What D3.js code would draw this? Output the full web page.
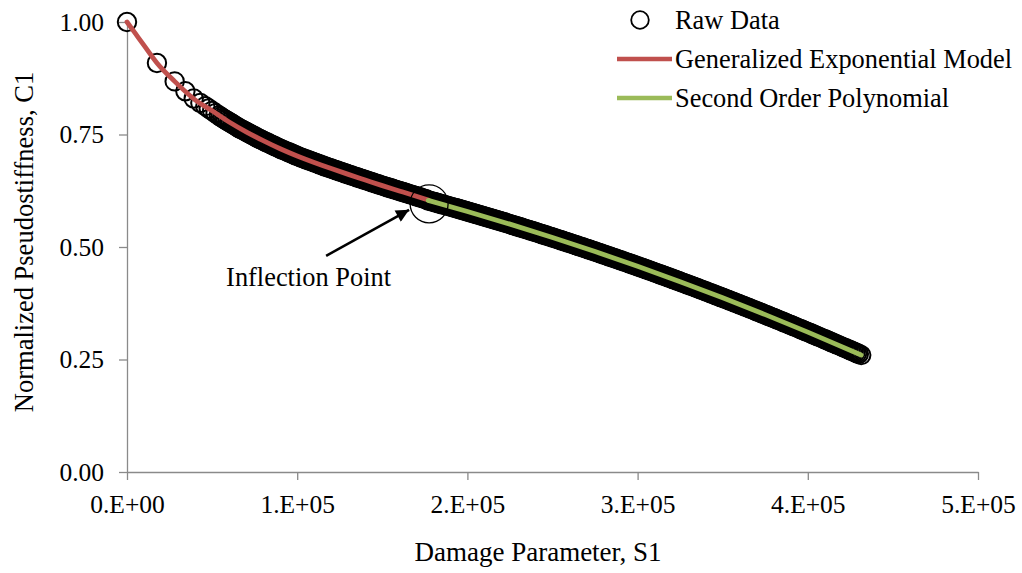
<!DOCTYPE html>
<html>
<head>
<meta charset="utf-8">
<script src="https://cdn.jsdelivr.net/npm/d3@7"></script>
<style>
  body { margin: 0; background: #fff; }
  svg { display: block; font-family: "Liberation Serif", "Times New Roman", serif; }
</style>
</head>
<body>
<div id="chart"></div>
<script>
// raw data: damage parameter S1 (in thousands) and normalized pseudostiffness C1
const rawSk = [0, 17.6, 28.0, 34.3, 39.2, 43.1,
  46, 48, 50, 52, 54, 56, 58, 60, 62, 64, 66, 68, 70, 72, 74, 76, 78, 80, 82, 84, 86, 88, 90,
  92, 94, 96, 98, 100, 102, 104, 106, 108, 110, 112, 114, 116, 118, 120, 122, 124, 126, 128, 130,
  132, 134, 136, 138, 140, 142, 144, 146, 148, 150, 152, 154, 156, 158, 160, 162, 164, 166, 168, 170,
  172, 174, 176, 178, 180, 182, 184, 186, 188, 190, 192, 194, 196, 198, 200, 202, 204, 206, 208, 210,
  212, 214, 216, 218, 220, 222, 224, 226, 228, 230, 232, 234, 236, 238, 240, 242, 244, 246, 248, 250,
  252, 254, 256, 258, 260, 262, 264, 266, 268, 270, 272, 274, 276, 278, 280, 282, 284, 286, 288, 290,
  292, 294, 296, 298, 300, 302, 304, 306, 308, 310, 312, 314, 316, 318, 320, 322, 324, 326, 328, 330,
  332, 334, 336, 338, 340, 342, 344, 346, 348, 350, 352, 354, 356, 358, 360, 362, 364, 366, 368, 370,
  372, 374, 376, 378, 380, 382, 384, 386, 388, 390, 392, 394, 396, 398, 400, 402, 404, 406, 408, 410,
  412, 414, 416, 418, 420, 422, 424, 426, 428, 430, 431.4];
const rawC = [1.000, 0.909, 0.868, 0.846, 0.830, 0.820,
  0.8130, 0.8078, 0.8026, 0.7974, 0.7922, 0.7870, 0.7824, 0.7778, 0.7732, 0.7686, 0.7640, 0.7600,
  0.7560, 0.7520, 0.7480, 0.7440, 0.7400, 0.7364, 0.7328, 0.7292, 0.7256, 0.7220, 0.7184, 0.7152,
  0.7120, 0.7088, 0.7056, 0.7024, 0.6992, 0.6964, 0.6936, 0.6908, 0.6880, 0.6852, 0.6824, 0.6796,
  0.6770, 0.6744, 0.6718, 0.6692, 0.6666, 0.6640, 0.6614, 0.6589, 0.6564, 0.6539, 0.6514, 0.6489,
  0.6464, 0.6439, 0.6414, 0.6389, 0.6364, 0.6340, 0.6317, 0.6293, 0.6270, 0.6246, 0.6222, 0.6199,
  0.6175, 0.6152, 0.6128, 0.6104, 0.6081, 0.6057,
  0.6025, 0.6004, 0.5983, 0.5962, 0.5941, 0.5919, 0.5898, 0.5876, 0.5855, 0.5833, 0.5811, 0.5790,
  0.5768, 0.5746, 0.5724, 0.5701, 0.5679, 0.5656, 0.5634, 0.5611, 0.5589, 0.5566, 0.5543, 0.5520,
  0.5497, 0.5473, 0.5450, 0.5427, 0.5403, 0.5380, 0.5356, 0.5332, 0.5308, 0.5284, 0.5260, 0.5236,
  0.5211, 0.5187, 0.5163, 0.5138, 0.5113, 0.5088, 0.5064, 0.5039, 0.5013, 0.4988, 0.4963, 0.4938,
  0.4912, 0.4887, 0.4861, 0.4835, 0.4809, 0.4783, 0.4757, 0.4731, 0.4705, 0.4678, 0.4652, 0.4625,
  0.4599, 0.4572, 0.4545, 0.4518, 0.4491, 0.4464, 0.4437, 0.4409, 0.4382, 0.4354, 0.4327, 0.4299,
  0.4271, 0.4243, 0.4215, 0.4187, 0.4159, 0.4130, 0.4102, 0.4073, 0.4045, 0.4016, 0.3987, 0.3958,
  0.3929, 0.3900, 0.3871, 0.3842, 0.3812, 0.3783, 0.3753, 0.3723, 0.3693, 0.3664, 0.3634, 0.3603,
  0.3573, 0.3543, 0.3513, 0.3482, 0.3451, 0.3421, 0.3390, 0.3359, 0.3328, 0.3297, 0.3266, 0.3235,
  0.3203, 0.3172, 0.3140, 0.3108, 0.3077, 0.3045, 0.3013, 0.2981, 0.2949, 0.2916, 0.2884, 0.2852,
  0.2819, 0.2786, 0.2754, 0.2721, 0.2688, 0.2655, 0.2622, 0.2598];

// the rest of the dense raw readings (in between the ones above)
const rawSk2 = [55, 57, 59, 61, 63, 65, 67, 69, 71, 73, 75, 77, 79, 81, 83, 85, 87, 89, 91, 93, 95,
  97, 99, 101, 103, 105, 107, 109, 111, 113, 115, 117, 119, 121, 123, 125, 127, 129, 131, 133, 135,
  137, 139, 141, 143, 145, 147, 149, 151, 153, 155, 157, 159, 161, 163, 165, 167, 169, 171, 173, 175,
  177, 179, 181, 183, 185, 187, 189, 191, 193, 195, 197, 199, 201, 203, 205, 207, 209, 211, 213, 215,
  217, 219, 221, 223, 225, 227, 229, 231, 233, 235, 237, 239, 241, 243, 245, 247, 249, 251, 253, 255,
  257, 259, 261, 263, 265, 267, 269, 271, 273, 275, 277, 279, 281, 283, 285, 287, 289, 291, 293, 295,
  297, 299, 301, 303, 305, 307, 309, 311, 313, 315, 317, 319, 321, 323, 325, 327, 329, 331, 333, 335,
  337, 339, 341, 343, 345, 347, 349, 351, 353, 355, 357, 359, 361, 363, 365, 367, 369, 371, 373, 375,
  377, 379, 381, 383, 385, 387, 389, 391, 393, 395, 397, 399, 401, 403, 405, 407, 409, 411, 413, 415,
  417, 419, 421, 423, 425, 427, 429];
const rawC2 = [0.7896, 0.7847, 0.7801, 0.7755, 0.7709, 0.7663, 0.7620, 0.7580, 0.7540, 0.7500, 0.7460,
  0.7420, 0.7382, 0.7346, 0.7310, 0.7274, 0.7238, 0.7202, 0.7168, 0.7136, 0.7104, 0.7072, 0.7040,
  0.7008, 0.6978, 0.6950, 0.6922, 0.6894, 0.6866, 0.6838, 0.6810, 0.6783, 0.6757, 0.6731, 0.6705,
  0.6679, 0.6653, 0.6627, 0.6601, 0.6576, 0.6551, 0.6526, 0.6501, 0.6476, 0.6451, 0.6426, 0.6401,
  0.6376, 0.6352, 0.6328, 0.6305, 0.6281, 0.6258, 0.6234, 0.6210, 0.6187, 0.6163, 0.6140, 0.6116,
  0.6092, 0.6069,
  0.6035, 0.6014, 0.5993, 0.5972, 0.5951, 0.5930, 0.5909, 0.5887, 0.5866, 0.5844, 0.5822, 0.5801,
  0.5779, 0.5757, 0.5735, 0.5712, 0.5690, 0.5668, 0.5645, 0.5623, 0.5600, 0.5577, 0.5554, 0.5531,
  0.5508, 0.5485, 0.5462, 0.5438, 0.5415, 0.5391, 0.5368, 0.5344, 0.5320, 0.5296, 0.5272, 0.5248,
  0.5224, 0.5199, 0.5175, 0.5150, 0.5126, 0.5101, 0.5076, 0.5051, 0.5026, 0.5001, 0.4976, 0.4950,
  0.4925, 0.4899, 0.4874, 0.4848, 0.4822, 0.4796, 0.4770, 0.4744, 0.4718, 0.4692, 0.4665, 0.4639,
  0.4612, 0.4585, 0.4558, 0.4532, 0.4505, 0.4477, 0.4450, 0.4423, 0.4396, 0.4368, 0.4340, 0.4313,
  0.4285, 0.4257, 0.4229, 0.4201, 0.4173, 0.4144, 0.4116, 0.4088, 0.4059, 0.4030, 0.4002, 0.3973,
  0.3944, 0.3915, 0.3885, 0.3856, 0.3827, 0.3797, 0.3768, 0.3738, 0.3708, 0.3679, 0.3649, 0.3619,
  0.3588, 0.3558, 0.3528, 0.3497, 0.3467, 0.3436, 0.3405, 0.3375, 0.3344, 0.3313, 0.3281, 0.3250,
  0.3219, 0.3187, 0.3156, 0.3124, 0.3093, 0.3061, 0.3029, 0.2997, 0.2965, 0.2933, 0.2900, 0.2868,
  0.2835, 0.2803, 0.2770, 0.2737, 0.2704, 0.2671, 0.2638];

// fitted models
const expSk = [0, 5, 10, 17.6, 28, 40, 50, 60, 70, 80, 90, 100, 110, 120, 130, 140, 150, 160, 170, 177];
const expC = [1.000, 0.974, 0.948, 0.909, 0.868, 0.827, 0.8026, 0.7778, 0.7560, 0.7364, 0.7184,
  0.7024, 0.6880, 0.6744, 0.6614, 0.6489, 0.6364, 0.6246, 0.6128, 0.6045];
const polySk = [177, 200, 225, 250, 275, 300, 325, 350, 375, 400, 431.4];
const polyC = [0.6035, 0.5790, 0.5508, 0.5211, 0.4899, 0.4572, 0.4229, 0.3871, 0.3497, 0.3108, 0.2598];

const inflection = { s: 177.5, c: 0.596 };

const xTicks = [0, 1e5, 2e5, 3e5, 4e5, 5e5];
const yTicks = [0, 0.25, 0.5, 0.75, 1.0];
const legendLabels = ["Raw Data", "Generalized Exponential Model", "Second Order Polynomial"];

const width = 1022, height = 573;
const margin = { top: 22, right: 44, bottom: 101, left: 127 };

const x = d3.scaleLinear().domain([0, 5e5]).range([margin.left, width - margin.right]);
const y = d3.scaleLinear().domain([0, 1]).range([height - margin.bottom, margin.top]);

const svg = d3.select("#chart").append("svg")
    .attr("width", width)
    .attr("height", height)
    .attr("viewBox", [0, 0, width, height]);

// 0.E+00 style tick labels
function fmtE(d) {
    if (d === 0) return "0.E+00";
    const e = Math.floor(Math.log10(d));
    const m = Math.round(d / Math.pow(10, e));
    return `${m}.E+${String(e).padStart(2, "0")}`;
}

const axisColor = "#8a8a8a";

const gx = svg.append("g")
    .attr("transform", `translate(0,${y(0)})`)
    .call(d3.axisBottom(x).tickValues(xTicks).tickFormat(fmtE).tickSize(8).tickSizeOuter(0).tickPadding(15));
const gy = svg.append("g")
    .attr("transform", `translate(${x(0)},0)`)
    .call(d3.axisLeft(y).tickValues(yTicks).tickFormat(d3.format(".2f")).tickSize(8).tickSizeOuter(0).tickPadding(15));

[gx, gy].forEach(g => {
    g.select(".domain").attr("stroke", axisColor).attr("stroke-width", 1.3);
    g.selectAll(".tick line").attr("stroke", axisColor).attr("stroke-width", 1.3);
    g.selectAll(".tick text")
        .attr("fill", "#000")
        .style("font-family", "'Liberation Serif', 'Times New Roman', serif")
        .style("font-size", "25.5px");
});

// axis titles
svg.append("text")
    .attr("x", 538)
    .attr("y", 561)
    .attr("text-anchor", "middle")
    .style("font-size", "27px")
    .text("Damage Parameter, S1");

svg.append("text")
    .attr("transform", `translate(33,${(y(0) + y(1)) / 2 - 5}) rotate(-90)`)
    .attr("text-anchor", "middle")
    .style("font-size", "26.5px")
    .text("Normalized Pseudostiffness, C1");

// raw data markers
const raw = rawSk.map((s, i) => ({ s: s * 1e3, c: rawC[i] }))
    .concat(rawSk2.map((s, i) => ({ s: s * 1e3, c: rawC2[i] })));
svg.append("g")
    .attr("fill", "none")
    .attr("stroke", "#000")
    .attr("stroke-width", 2)
  .selectAll("circle")
  .data(raw)
  .join("circle")
    .attr("cx", d => x(d.s))
    .attr("cy", d => y(d.c))
    .attr("r", 9.2);

const line = d3.line()
    .x(d => x(d.s))
    .y(d => y(d.c))
    .curve(d3.curveMonotoneX);

const expData = expSk.map((s, i) => ({ s: s * 1e3, c: expC[i] }));
const polyData = polySk.map((s, i) => ({ s: s * 1e3, c: polyC[i] }));

svg.append("path")
    .datum(expData)
    .attr("fill", "none")
    .attr("stroke", "#C0504D")
    .attr("stroke-width", 4.8)
    .attr("stroke-linecap", "round")
    .attr("d", line);

svg.append("path")
    .datum(polyData)
    .attr("fill", "none")
    .attr("stroke", "#9BBB59")
    .attr("stroke-width", 4.8)
    .attr("stroke-linecap", "round")
    .attr("d", line);

// inflection point annotation
const ix = x(inflection.s * 1e3), iy = y(inflection.c);
svg.append("circle")
    .attr("cx", ix)
    .attr("cy", iy)
    .attr("r", 19)
    .attr("fill", "none")
    .attr("stroke", "#000")
    .attr("stroke-width", 1.3);

svg.append("defs").append("marker")
    .attr("id", "arrow")
    .attr("viewBox", "0 0 10 10")
    .attr("refX", 10)
    .attr("refY", 5)
    .attr("markerWidth", 6)
    .attr("markerHeight", 5)
    .attr("markerUnits", "strokeWidth")
    .attr("orient", "auto")
  .append("path")
    .attr("d", "M0,0L10,5L0,10z")
    .attr("fill", "#000");

svg.append("line")
    .attr("x1", ix - 103)
    .attr("y1", iy + 52)
    .attr("x2", ix - 20)
    .attr("y2", iy + 6)
    .attr("stroke", "#000")
    .attr("stroke-width", 2.6)
    .attr("marker-end", "url(#arrow)");

svg.append("text")
    .attr("x", ix - 203)
    .attr("y", iy + 82)
    .style("font-size", "26.4px")
    .text("Inflection Point");

// legend
const legend = svg.append("g")
  .selectAll("g")
  .data(legendLabels)
  .join("g")
    .attr("transform", (d, i) => `translate(644,${20 + i * 39})`);

legend.append("text")
    .attr("x", 31)
    .attr("dy", "0.33em")
    .style("font-size", "26.4px")
    .text(d => d);

legend.filter((d, i) => i === 0).append("circle")
    .attr("cx", -4)
    .attr("r", 8.8)
    .attr("fill", "none")
    .attr("stroke", "#000")
    .attr("stroke-width", 1.8);

legend.filter((d, i) => i > 0).append("line")
    .attr("x1", -27)
    .attr("x2", 28)
    .attr("stroke", (d, i) => i === 0 ? "#C0504D" : "#9BBB59")
    .attr("stroke-width", 4.5);
</script>
</body>
</html>
